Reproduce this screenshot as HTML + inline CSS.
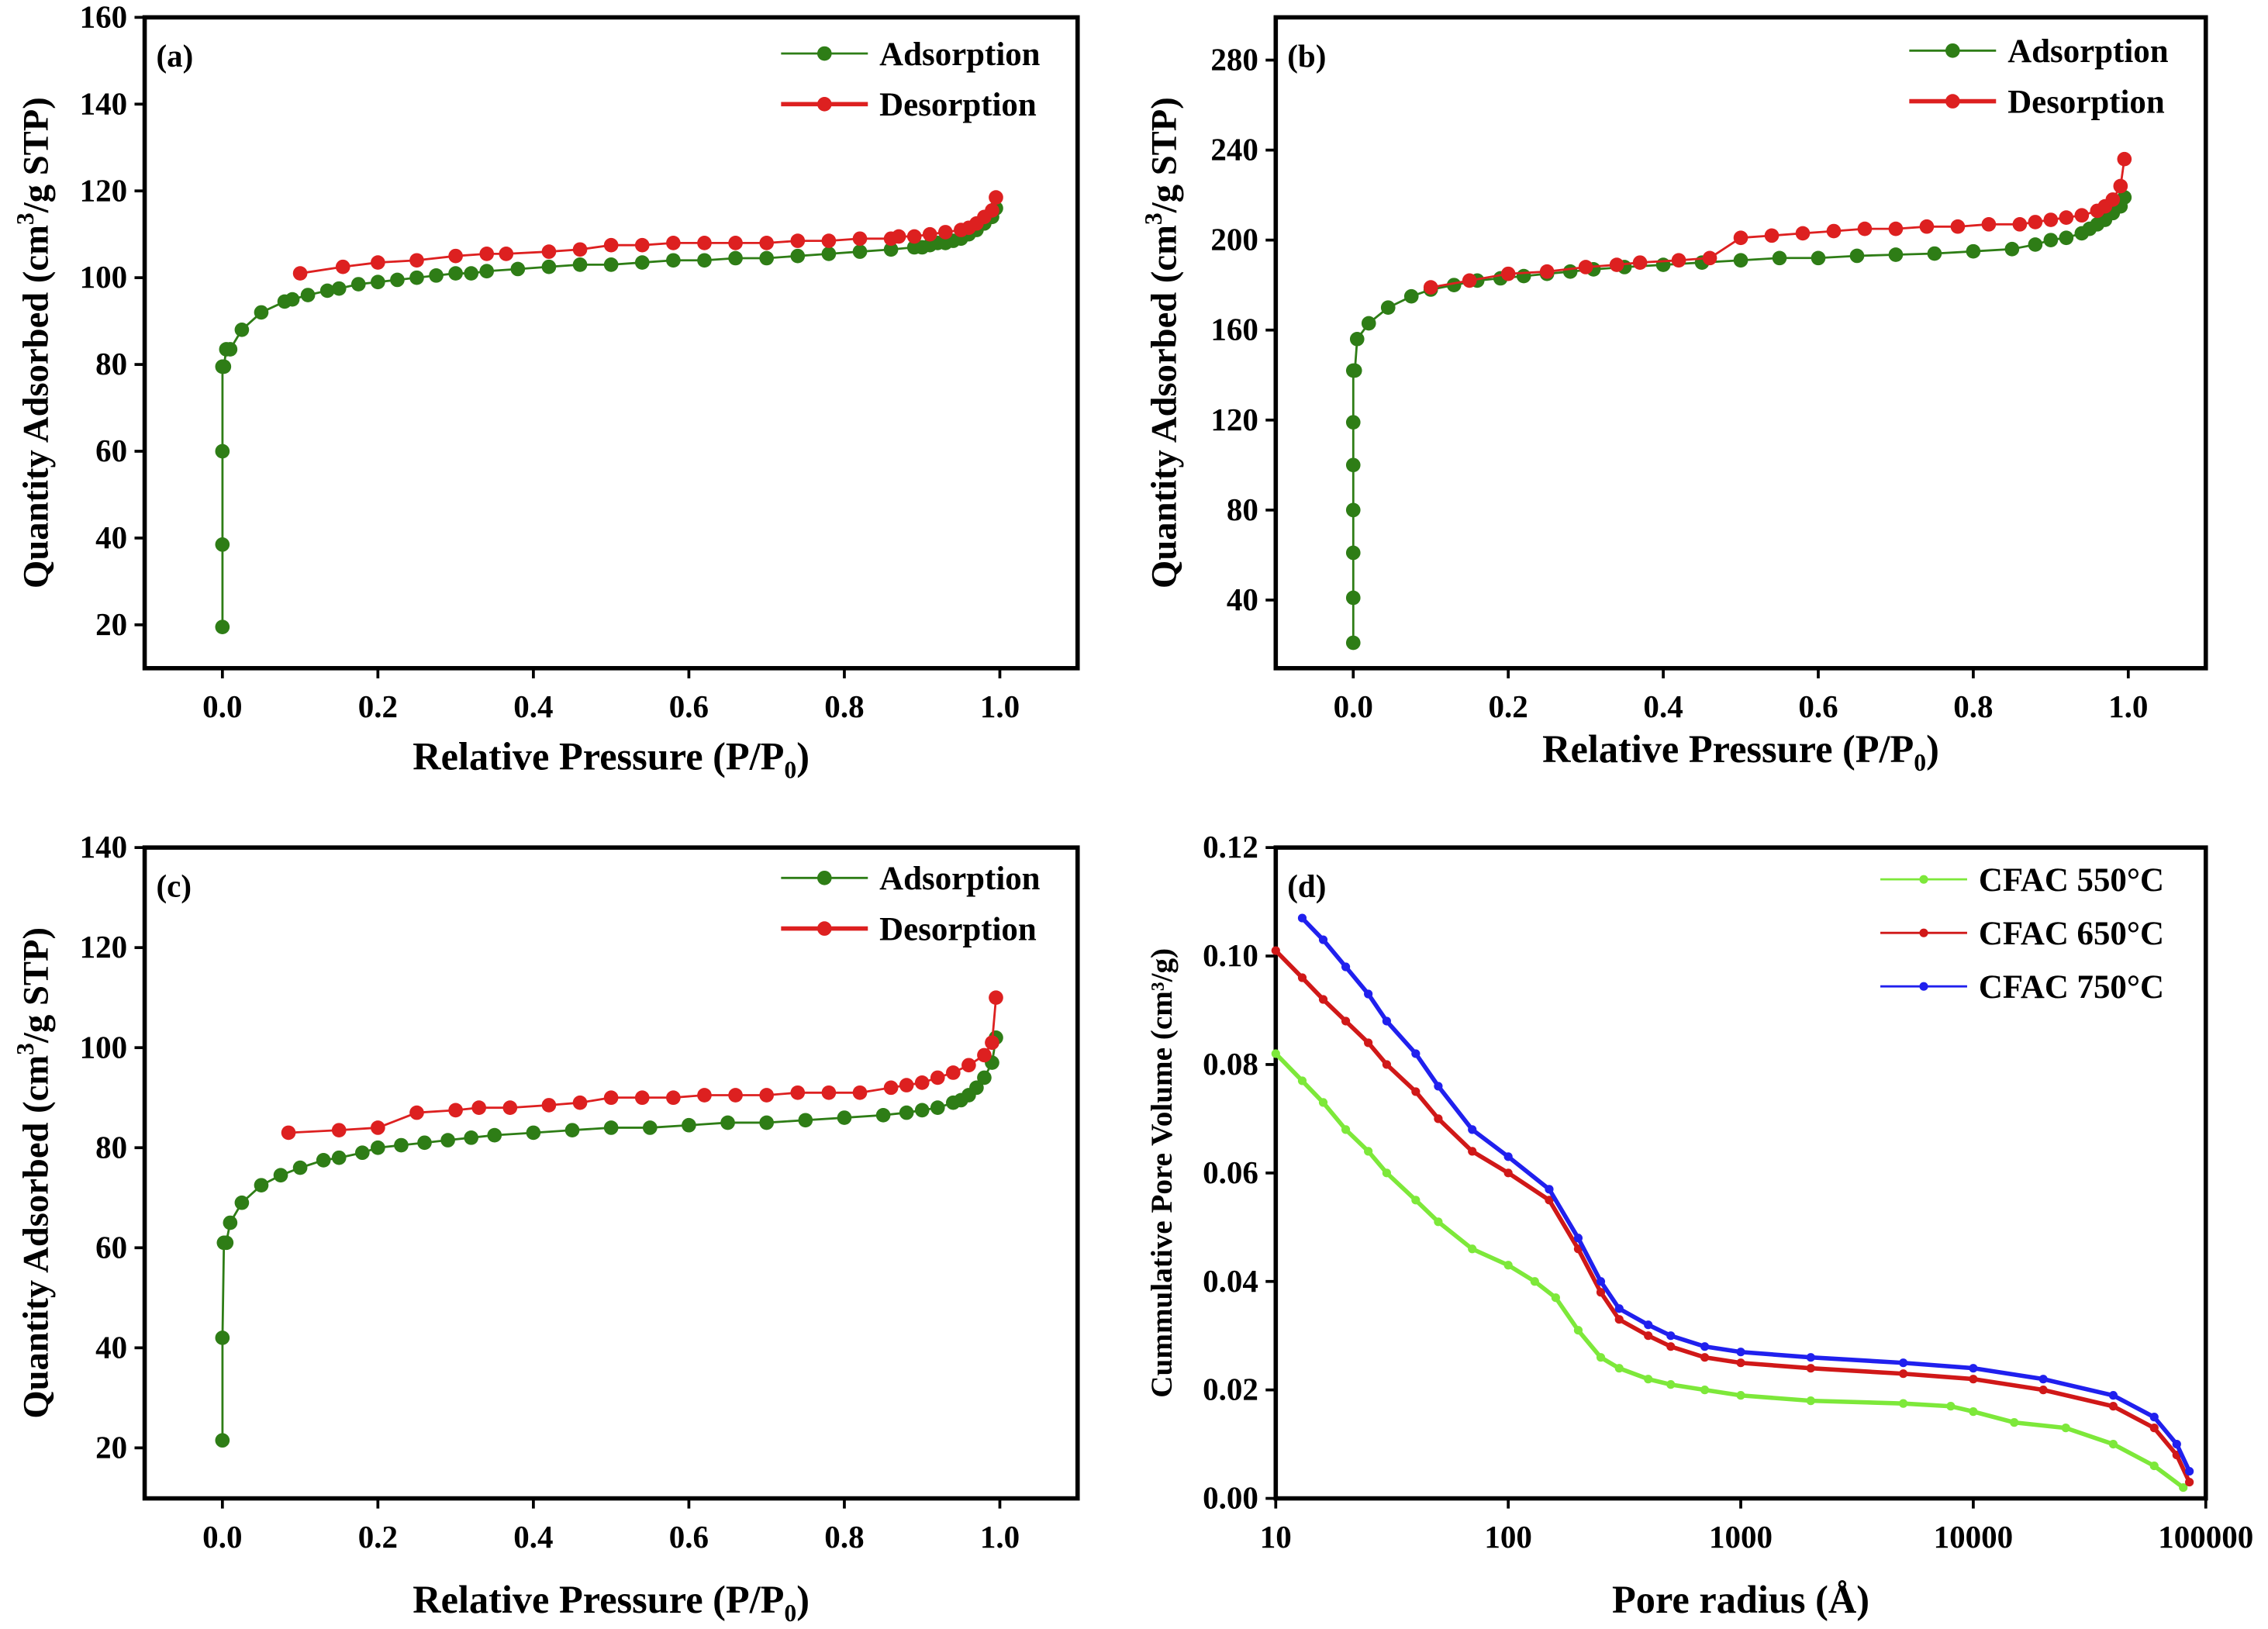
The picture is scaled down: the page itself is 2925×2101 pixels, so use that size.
<!DOCTYPE html>
<html><head><meta charset="utf-8"><style>
html,body{margin:0;padding:0;background:#fff}
svg{display:block}
text{font-family:"Liberation Serif",serif;font-weight:bold;fill:#000}
</style></head><body>
<svg id="chart" xmlns="http://www.w3.org/2000/svg" width="2925" height="2101" viewBox="0 0 1568 1126.3"></svg>
<script>
// ---- Panel (a) data ----
const aAdsP=[0,0,0,0,0.002,0.005,0.01,0.025,0.05,0.08,0.09,0.11,0.135,0.15,0.175,0.2,0.225,0.25,0.275,0.3,0.32,0.34,0.38,0.42,0.46,0.5,0.54,0.58,0.62,0.66,0.7,0.74,0.78,0.82,0.86,0.89,0.9,0.91,0.92,0.93,0.94,0.95,0.96,0.97,0.98,0.99,0.995];
const aAdsV=[19.5,38.5,60,79.5,79.5,83.5,83.5,88,92,94.5,95,96,97,97.5,98.5,99,99.5,100,100.5,101,101,101.5,102,102.5,103,103,103.5,104,104,104.5,104.5,105,105.5,106,106.5,107,107,107.5,108,108,108.5,109,110,111,112.5,114,116];
const aDesP=[0.1,0.155,0.2,0.25,0.3,0.34,0.365,0.42,0.46,0.5,0.54,0.58,0.62,0.66,0.7,0.74,0.78,0.82,0.86,0.87,0.89,0.91,0.93,0.95,0.96,0.97,0.98,0.99,0.995];
const aDesV=[101,102.5,103.5,104,105,105.5,105.5,106,106.5,107.5,107.5,108,108,108,108,108.5,108.5,109,109,109.5,109.5,110,110.5,111,111.5,112.5,114,115.5,118.5];
// ---- Panel (b) data ----
const bAdsP=[0,0,0,0,0,0,0,0.002,0.005,0.02,0.045,0.075,0.1,0.13,0.16,0.19,0.22,0.25,0.28,0.31,0.35,0.4,0.45,0.5,0.55,0.6,0.65,0.7,0.75,0.8,0.85,0.88,0.9,0.92,0.94,0.95,0.96,0.97,0.98,0.99,0.995];
const bAdsV=[21,41,61,80,100,119,142,142,156,163,170,175,178,180,182,183,184,185,186,187,188,189,190,191,192,192,193,193.5,194,195,196,198,200,201,203,205,207,209,212,215,219];
const bDesP=[0.1,0.15,0.2,0.25,0.3,0.34,0.37,0.42,0.46,0.5,0.54,0.58,0.62,0.66,0.7,0.74,0.78,0.82,0.86,0.88,0.9,0.92,0.94,0.96,0.97,0.98,0.99,0.995];
const bDesV=[179,182,185,186,188,189,190,191,192,201,202,203,204,205,205,206,206,207,207,208,209,210,211,213,215,218,224,236];
// ---- Panel (c) data ----
const cAdsP=[0,0,0.002,0.005,0.01,0.025,0.05,0.075,0.1,0.13,0.15,0.18,0.2,0.23,0.26,0.29,0.32,0.35,0.4,0.45,0.5,0.55,0.6,0.65,0.7,0.75,0.8,0.85,0.88,0.9,0.92,0.94,0.95,0.96,0.97,0.98,0.99,0.995];
const cAdsV=[21.5,42,61,61,65,69,72.5,74.5,76,77.5,78,79,80,80.5,81,81.5,82,82.5,83,83.5,84,84,84.5,85,85,85.5,86,86.5,87,87.5,88,89,89.5,90.5,92,94,97,102];
const cDesP=[0.085,0.15,0.2,0.25,0.3,0.33,0.37,0.42,0.46,0.5,0.54,0.58,0.62,0.66,0.7,0.74,0.78,0.82,0.86,0.88,0.9,0.92,0.94,0.96,0.98,0.99,0.995];
const cDesV=[83,83.5,84,87,87.5,88,88,88.5,89,90,90,90,90.5,90.5,90.5,91,91,91,92,92.5,93,94,95,96.5,98.5,101,110];
// ---- Panel (d) data ----
const d550R=[10,13,16,20,25,30,40,50,70,100,130,160,200,250,300,400,500,700,1000,2000,5000,8000,10000,15000,25000,40000,60000,80000];
const d550V=[0.082,0.077,0.073,0.068,0.064,0.060,0.055,0.051,0.046,0.043,0.040,0.037,0.031,0.026,0.024,0.022,0.021,0.020,0.019,0.018,0.0175,0.017,0.016,0.014,0.013,0.010,0.006,0.002];
const d650R=[10,13,16,20,25,30,40,50,70,100,150,200,250,300,400,500,700,1000,2000,5000,10000,20000,40000,60000,75000,85000];
const d650V=[0.101,0.096,0.092,0.088,0.084,0.080,0.075,0.070,0.064,0.060,0.055,0.046,0.038,0.033,0.030,0.028,0.026,0.025,0.024,0.023,0.022,0.020,0.017,0.013,0.008,0.003];
const d750R=[13,16,20,25,30,40,50,70,100,150,200,250,300,400,500,700,1000,2000,5000,10000,20000,40000,60000,75000,85000];
const d750V=[0.107,0.103,0.098,0.093,0.088,0.082,0.076,0.068,0.063,0.057,0.048,0.040,0.035,0.032,0.030,0.028,0.027,0.026,0.025,0.024,0.022,0.019,0.015,0.010,0.005];
const isoTicksX=[0,0.2,0.4,0.6,0.8,1.0];
const aTicksY=[20,40,60,80,100,120,140,160];
const bTicksY=[40,80,120,160,200,240,280];
const cTicksY=[20,40,60,80,100,120,140];
const dTicksY=[0,0.02,0.04,0.06,0.08,0.10,0.12];
const dTicksX=[10,100,1000,10000,100000];

const NS='http://www.w3.org/2000/svg';
const svg=document.getElementById('chart');
function el(tag,attrs,parent){const e=document.createElementNS(NS,tag);for(const k in attrs)e.setAttribute(k,attrs[k]);(parent||svg).appendChild(e);return e;}
function txt(s,attrs,parent){const e=el('text',attrs,parent);e.textContent=s;return e;}

function panel(o){
  const g=el('g',{});
  
  
  const X=o.log?(v=>o.x0+(Math.log10(v)-1)*(o.x1-o.x0)/4):(v=>o.x0+(v-(-0.1))*(o.x1-o.x0)/1.2);
  const Y=v=>o.y1-(v-o.ymin)*(o.y1-o.y0)/(o.ymax-o.ymin);
  const frame=el('rect',{x:o.x0,y:o.y0,width:o.x1-o.x0,height:o.y1-o.y0,fill:'none',stroke:'#000','stroke-width':3},g);
  
  
  o.xt.forEach(v=>{
    el('line',{x1:X(v),x2:X(v),y1:o.y1,y2:o.y1+7,stroke:'#000','stroke-width':2},g);
    const t=txt(o.log?String(v):v.toFixed(1),{x:X(v),y:o.y1+34,'text-anchor':'middle','font-size':22},g);
    
    
  });
  o.yt.forEach(v=>{
    el('line',{x1:o.x0-7,x2:o.x0,y1:Y(v),y2:Y(v),stroke:'#000','stroke-width':2},g);
    const t=txt(o.log?v.toFixed(2):String(v),{x:o.x0-12,y:Y(v)+7,'text-anchor':'end','font-size':22},g);
    
    
  });
  const lab=txt(o.label,{x:o.x0+8,y:o.y0+34,'font-size':22},g);
  
  
  const xt=txt('',{x:(o.x0+o.x1)/2,y:o.xtY,'text-anchor':'middle','font-size':27},g);
  xt.innerHTML=o.xtitle;
  
  
  const yt=txt('',{x:0,y:0,'text-anchor':'middle','font-size':o.log?21:25,transform:`translate(${o.ytX},${(o.y0+o.y1)/2}) rotate(-90)`},g);
  yt.innerHTML=o.ytitle;
  
  
  o.series.forEach((s,i)=>{
    const sg=el('g',{},g);
    
    
    const pts=s.xs.map((x,j)=>X(x).toFixed(1)+','+Y(s.ys[j]).toFixed(1)).join(' ');
    el('polyline',{points:pts,fill:'none',stroke:s.color,'stroke-width':s.lw||1.5},sg);
    s.xs.forEach((x,j)=>{
      const c=el('circle',{cx:X(x),cy:Y(s.ys[j]),r:s.r||5,fill:s.color},sg);
      
      
    });
    const ly=o.legY+i*o.legDy;
    const lg=el('g',{},g);
    
    
    el('line',{x1:o.legX,x2:o.legX+60,y1:ly,y2:ly,stroke:s.color,'stroke-width':s.key.startsWith('des')&&!o.log?3:1.5},lg);
    el('circle',{cx:o.legX+30,cy:ly,r:s.r||5,fill:s.color},lg);
    txt(s.name,{x:o.legX+68,y:ly+8,'font-size':23},lg);
  });
}
const G='#2e7d16',R='#dd2020';
const xtIso='Relative Pressure (P/P<tspan font-size="17" dy="6">0</tspan><tspan dy="-6">)</tspan>';
const ytIso='Quantity Adsorbed (cm<tspan font-size="17" dy="-10">3</tspan><tspan dy="10">/g STP)</tspan>';
panel({name:'panel-a',x0:100,x1:745,y0:12,y1:462,ymin:10,ymax:160,xt:isoTicksX,yt:aTicksY,label:'(a)',xtitle:xtIso,ytitle:ytIso,xtY:532,ytX:33,legX:540,legY:37,legDy:35,
  series:[{key:'adsorption-a',name:'Adsorption',xs:aAdsP,ys:aAdsV,color:G},{key:'desorption-a',name:'Desorption',xs:aDesP,ys:aDesV,color:R}]});
panel({name:'panel-b',x0:882,x1:1525,y0:12,y1:462,ymin:9.7,ymax:299,xt:isoTicksX,yt:bTicksY,label:'(b)',xtitle:xtIso,ytitle:ytIso,xtY:527,ytX:813,legX:1320,legY:35,legDy:35,
  series:[{key:'adsorption-b',name:'Adsorption',xs:bAdsP,ys:bAdsV,color:G},{key:'desorption-b',name:'Desorption',xs:bDesP,ys:bDesV,color:R}]});
panel({name:'panel-c',x0:100,x1:745,y0:586,y1:1036,ymin:9.9,ymax:140,xt:isoTicksX,yt:cTicksY,label:'(c)',xtitle:xtIso,ytitle:ytIso,xtY:1115,ytX:33,legX:540,legY:607,legDy:35,
  series:[{key:'adsorption-c',name:'Adsorption',xs:cAdsP,ys:cAdsV,color:G},{key:'desorption-c',name:'Desorption',xs:cDesP,ys:cDesV,color:R}]});
panel({log:true,name:'panel-d',x0:882,x1:1525,y0:586,y1:1036,ymin:0,ymax:0.12,xt:dTicksX,yt:dTicksY,label:'(d)',xtitle:'Pore radius (Å)',ytitle:'Cummulative Pore Volume (cm³/g)',xtY:1115,ytX:810,legX:1300,legY:608,legDy:37,
  series:[{key:'cfac-550',name:'CFAC 550°C',xs:d550R,ys:d550V,color:'#7de83a',r:3,lw:3},{key:'cfac-650',name:'CFAC 650°C',xs:d650R,ys:d650V,color:'#d01818',r:3,lw:3},{key:'cfac-750',name:'CFAC 750°C',xs:d750R,ys:d750V,color:'#2020ee',r:3,lw:3}]});
</script>
</body></html>
